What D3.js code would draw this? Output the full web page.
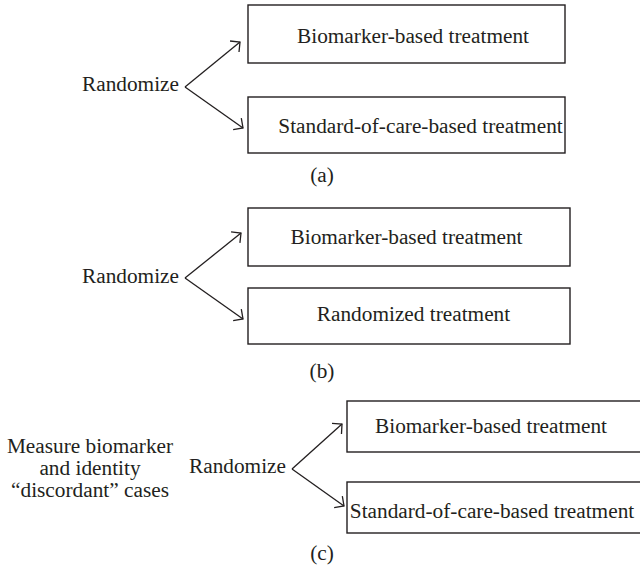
<!DOCTYPE html>
<html>
<head>
<meta charset="utf-8">
<script src="https://cdn.jsdelivr.net/npm/d3@7"></script>
<style>
html,body{margin:0;padding:0;background:#fff;}
svg{display:block;}
</style>
</head>
<body>
<svg id="chart" width="640" height="575"></svg>
<script>
// ---- content ----
const panelIds = ["(a)", "(b)", "(c)"];
const randomizeLabel = "Randomize";
const armTopLabels = ["Biomarker-based treatment", "Biomarker-based treatment", "Biomarker-based treatment"];
const armBottomLabels = ["Standard-of-care-based treatment", "Randomized treatment", "Standard-of-care-based treatment"];
const preStepLines = [[], [], ["Measure biomarker", "and identity", "\u201Cdiscordant\u201D cases"]];

// ---- layout (positions only) ----
const layout = [
  {rand:{x:82,y:91}, vertex:[185,87], tipTop:[240,42], tipBot:[243,128],
   box1:{x0:248,y0:5,x1:565,y1:63,tx:413,ty:43},
   box2:{x0:248,y0:97,x1:565,y1:153,tx:420.5,ty:133},
   id:{x:322,y:182}},
  {rand:{x:82,y:283}, vertex:[185,278], tipTop:[241,233], tipBot:[243,319],
   box1:{x0:248,y0:208,x1:570,y1:266,tx:406.5,ty:244},
   box2:{x0:248,y0:288,x1:570,y1:344,tx:413.5,ty:321},
   id:{x:322,y:378}},
  {rand:{x:189,y:473}, vertex:[292,469], tipTop:[342,424], tipBot:[344,506],
   box1:{x0:347,y0:401,x1:648,y1:452,tx:491,ty:433},
   box2:{x0:347,y0:482,x1:648,y1:533,tx:492,ty:518},
   id:{x:322,y:560},
   pre:{x:90,y:453,dy:22}}
];

const ink = "#231f20";
const fs = 21.3;

const svg = d3.select("#chart");
const g = svg.append("g");

function arrow(sel, from, to) {
  const line = d3.line();
  sel.append("path").attr("d", line([from, to]))
    .attr("fill","none").attr("stroke",ink).attr("stroke-width",1.3);
  const ang = Math.atan2(from[1]-to[1], from[0]-to[0]);
  const L = 10, spread = Math.PI/4;
  const a1 = [to[0]+L*Math.cos(ang+spread), to[1]+L*Math.sin(ang+spread)];
  const a2 = [to[0]+L*Math.cos(ang-spread), to[1]+L*Math.sin(ang-spread)];
  sel.append("path").attr("d", line([a1, to, a2]))
    .attr("fill","none").attr("stroke",ink).attr("stroke-width",1.3)
    .attr("stroke-linejoin","miter");
}

function text(sel, x, y, s, anchor) {
  sel.append("text").attr("x",x).attr("y",y)
    .attr("text-anchor",anchor||"middle")
    .style("font-family","\"Liberation Serif\"")
    .style("font-size",fs+"px")
    .attr("fill",ink).text(s);
}

layout.forEach((L, i) => {
  const p = g.append("g");
  [L.box1, L.box2].forEach((b, j) => {
    p.append("rect").attr("x",b.x0).attr("y",b.y0)
      .attr("width",b.x1-b.x0).attr("height",b.y1-b.y0)
      .attr("fill","none").attr("stroke",ink).attr("stroke-width",1.4);
    text(p, b.tx, b.ty, j===0 ? armTopLabels[i] : armBottomLabels[i]);
  });
  text(p, L.rand.x, L.rand.y, randomizeLabel, "start");
  arrow(p, L.vertex, L.tipTop);
  arrow(p, L.vertex, L.tipBot);
  text(p, L.id.x, L.id.y, panelIds[i]);
  if (L.pre) {
    preStepLines[i].forEach((s, k) => text(p, L.pre.x, L.pre.y + k*L.pre.dy, s));
  }
});
</script>
</body>
</html>
